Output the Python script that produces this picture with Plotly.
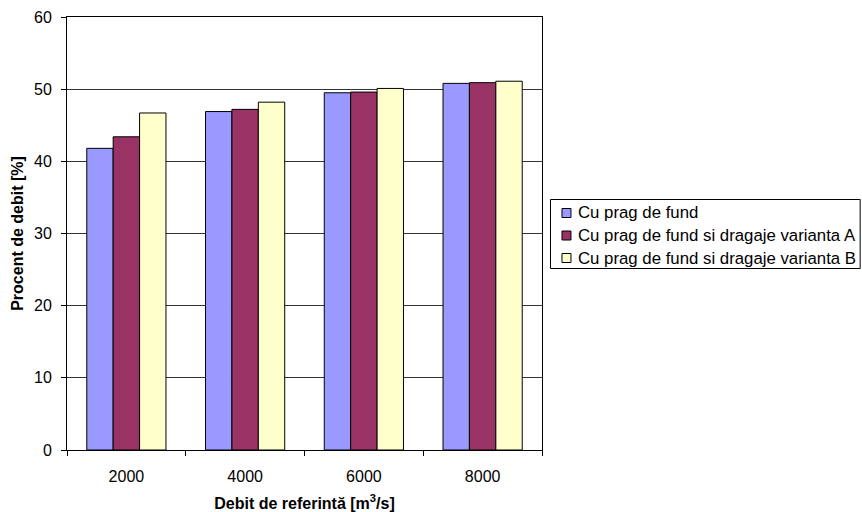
import plotly.graph_objects as go

categories = ["2000", "4000", "6000", "8000"]
series_names = [
    "Cu prag de fund",
    "Cu prag de fund si dragaje varianta A",
    "Cu prag de fund si dragaje varianta B",
]
values_a = [41.8, 46.9, 49.5, 50.8]
values_b = [43.4, 47.2, 49.6, 50.9]
values_c = [46.7, 48.2, 50.1, 51.1]
colors = ["#9999FF", "#993366", "#FFFFCC"]

fig = go.Figure()
for name, vals, col in zip(series_names, [values_a, values_b, values_c], colors):
    fig.add_trace(go.Bar(
        x=categories, y=vals, name=name, showlegend=False,
        marker=dict(color=col, line=dict(color="black", width=1)),
    ))

font = "Liberation Sans, Arial, sans-serif"
W, H = 862, 512
L, R, T, B = 66.5, 320, 17, 62
PW, PH = W - L - R, H - T - B


def px_x(px):
    return (px - L) / PW


def px_y(py):
    return (H - B - py) / PH


# legend drawn as box + swatches + text (positions in pixels)
shapes = [dict(type="rect", xref="paper", yref="paper",
               x0=px_x(550.5), x1=px_x(860.5), y0=px_y(268.5), y1=px_y(199.5),
               line=dict(color="black", width=1), fillcolor="white", layer="above")]
annotations = []
row_centers = [213, 235.5, 258]
for name, col, yc in zip(series_names, colors, row_centers):
    shapes.append(dict(type="rect", xref="paper", yref="paper",
                       x0=px_x(562), x1=px_x(571), y0=px_y(yc + 4.5), y1=px_y(yc - 4.5),
                       line=dict(color="black", width=1), fillcolor=col, layer="above"))
    annotations.append(dict(xref="paper", yref="paper", x=px_x(576), y=px_y(yc),
                            xanchor="left", yanchor="middle", showarrow=False,
                            text=name, font=dict(family=font, size=16.8, color="black")))

fig.update_layout(
    width=W, height=H,
    margin=dict(l=L, r=R, t=T, b=B, autoexpand=False),
    paper_bgcolor="white", plot_bgcolor="white",
    barmode="group", bargap=0.333, bargroupgap=0,
    font=dict(family=font, size=16, color="black"),
    showlegend=False,
    shapes=shapes, annotations=annotations,
)
fig.update_xaxes(
    type="category", automargin=False,
    showline=True, linecolor="black", linewidth=1, mirror=True,
    ticks="outside", ticklen=5, tickcolor="black", tickson="boundaries",
    tickfont=dict(family=font, size=16), ticklabelstandoff=12,
    title=dict(text="<b>Debit de referintă [m<sup>3</sup>/s]</b>", font=dict(family=font, size=16), standoff=13),
)
fig.update_yaxes(
    range=[0, 60], dtick=10, automargin=False,
    showline=True, linecolor="black", linewidth=1, mirror=True,
    showgrid=True, gridcolor="#333333", gridwidth=1,
    ticks="outside", ticklen=5, tickcolor="black",
    tickfont=dict(family=font, size=16), ticklabelstandoff=6,
    zeroline=False,
    title=dict(text="<b>Procent de debit [%]</b>", font=dict(family=font, size=16), standoff=6),
)

fig.write_html("out.html", config={"displayModeBar": False},
               post_script="document.body.style.margin='0';")
